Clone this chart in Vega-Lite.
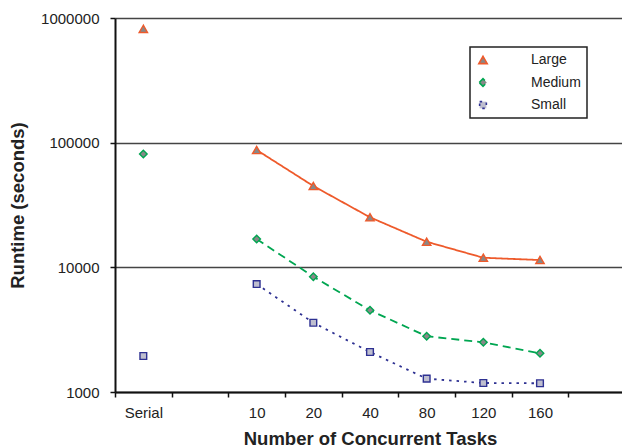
{
  "$schema": "https://vega.github.io/schema/vega-lite/v6.json",
  "autosize": {"type": "none"},
  "width": 510,
  "height": 374,
  "padding": {"left": 115, "top": 18, "right": 0, "bottom": 56},
  "config": {
    "font": "Liberation Sans",
    "view": {"stroke": null}
  },
  "data": {
    "values": [
      {"tasks": "Serial", "series": "Large", "runtime": 818000},
      {"tasks": "10", "series": "Large", "runtime": 87300},
      {"tasks": "20", "series": "Large", "runtime": 44900},
      {"tasks": "40", "series": "Large", "runtime": 25200},
      {"tasks": "80", "series": "Large", "runtime": 16040},
      {"tasks": "120", "series": "Large", "runtime": 11940},
      {"tasks": "160", "series": "Large", "runtime": 11440},
      {"tasks": "Serial", "series": "Medium", "runtime": 81000},
      {"tasks": "10", "series": "Medium", "runtime": 16860},
      {"tasks": "20", "series": "Medium", "runtime": 8410},
      {"tasks": "40", "series": "Medium", "runtime": 4520},
      {"tasks": "80", "series": "Medium", "runtime": 2800},
      {"tasks": "120", "series": "Medium", "runtime": 2503},
      {"tasks": "160", "series": "Medium", "runtime": 2043},
      {"tasks": "Serial", "series": "Small", "runtime": 1944},
      {"tasks": "10", "series": "Small", "runtime": 7345},
      {"tasks": "20", "series": "Small", "runtime": 3595},
      {"tasks": "40", "series": "Small", "runtime": 2093},
      {"tasks": "80", "series": "Small", "runtime": 1279},
      {"tasks": "120", "series": "Small", "runtime": 1181},
      {"tasks": "160", "series": "Small", "runtime": 1175}
    ]
  },
  "encoding": {
    "x": {
      "field": "tasks",
      "type": "ordinal",
      "scale": {"type": "band", "domain": ["Serial", " ", "10", "20", "40", "80", "120", "160", "  "], "paddingInner": 0, "paddingOuter": 0},
      "axis": {
        "title": "Number of Concurrent Tasks",
        "titleFont": "Liberation Sans",
        "titleFontSize": 18.5,
        "titleFontWeight": "bold",
        "titleColor": "#222",
        "titlePadding": 9,
        "labelFontSize": 15,
        "labelColor": "#222",
        "labelAngle": 0,
        "labelPadding": 8,
        "tickBand": "extent",
        "tickSize": 5,
        "tickColor": "#111",
        "tickWidth": 1.5,
        "domainColor": "#111",
        "domainWidth": 2,
        "grid": false
      }
    },
    "y": {
      "field": "runtime",
      "type": "quantitative",
      "scale": {"type": "log", "domain": [1000, 1000000], "nice": false},
      "axis": {
        "title": "Runtime (seconds)",
        "titleFont": "Liberation Sans",
        "titleFontSize": 18.5,
        "titleFontWeight": "bold",
        "titleColor": "#222",
        "titlePadding": 13,
        "values": [1000, 10000, 100000, 1000000],
        "format": "d",
        "labelFontSize": 15,
        "labelColor": "#222",
        "labelPadding": 11,
        "tickSize": 5,
        "tickColor": "#111",
        "tickWidth": 1.5,
        "domainColor": "#111",
        "domainWidth": 2,
        "grid": true,
        "gridColor": "#444",
        "gridWidth": 1.3
      }
    }
  },
  "layer": [
    {
      "transform": [{"filter": "datum.tasks !== 'Serial'"}],
      "mark": {"type": "line", "strokeWidth": 1.8},
      "encoding": {
        "stroke": {
          "field": "series",
          "type": "nominal",
          "scale": {"domain": ["Large", "Medium", "Small"], "range": ["#EE5A2B", "#00A651", "#2E3192"]},
          "legend": {
            "title": null,
            "orient": "none",
            "legendX": 355,
            "legendY": 29,
            "padding": 6,
            "strokeColor": "#222",
            "labelFontSize": 14,
            "labelColor": "#222",
            "labelOffset": 41,
            "rowPadding": 8.5,
            "symbolSize": 100,
            "symbolStrokeWidth": 1.6,
            "encode": {
              "legend": {"update": {"strokeWidth": {"value": 1.5}}},
              "symbols": {
                "update": {
                  "shape": {"value": {"signal": "datum.value === 'Large' ? 'M1,0H3.9M5.7,0H8.8M4.8,-0.9L5.7,0.7L3.9,0.7Z' : datum.value === 'Medium' ? 'M1,0H2.5M3.2,0H4M5.6,0H6.4M7.1,0H8.6M4.8,-0.75L5.55,0L4.8,0.75L4.05,0Z' : 'M1,0H1.5M2.4,0H2.9M3.8,0H4M5.6,0H5.8M6.7,0H7.2M8.1,0H8.6M4,-0.8H5.6V0.8H4Z'"}},
                  "fill": {"value": {"signal": "datum.value === 'Small' ? '#BEBECF' : '#888888'"}},
                  "strokeDash": {"value": [1, 0]},
                  "opacity": {"value": 1}
                }
              }
            }
          }
        },
        "strokeDash": {
          "field": "series",
          "type": "nominal",
          "scale": {"domain": ["Large", "Medium", "Small"], "range": [[1, 0], [8, 5], [2.5, 5]]},
          "legend": null
        }
      }
    },
    {
      "mark": {"type": "point", "filled": true, "opacity": 1, "strokeWidth": 1.4},
      "encoding": {
        "stroke": {"field": "series", "type": "nominal"},
        "fill": {
          "field": "series",
          "type": "nominal",
          "scale": {"domain": ["Large", "Medium", "Small"], "range": ["#888888", "#888888", "#BEBECF"]},
          "legend": null
        },
        "shape": {
          "field": "series",
          "type": "nominal",
          "scale": {"domain": ["Large", "Medium", "Small"], "range": ["triangle-up", "diamond", "square"]},
          "legend": null
        },
        "size": {
          "field": "series",
          "type": "nominal",
          "scale": {"domain": ["Large", "Medium", "Small"], "range": [70, 45, 50]},
          "legend": null
        }
      }
    }
  ]
}
